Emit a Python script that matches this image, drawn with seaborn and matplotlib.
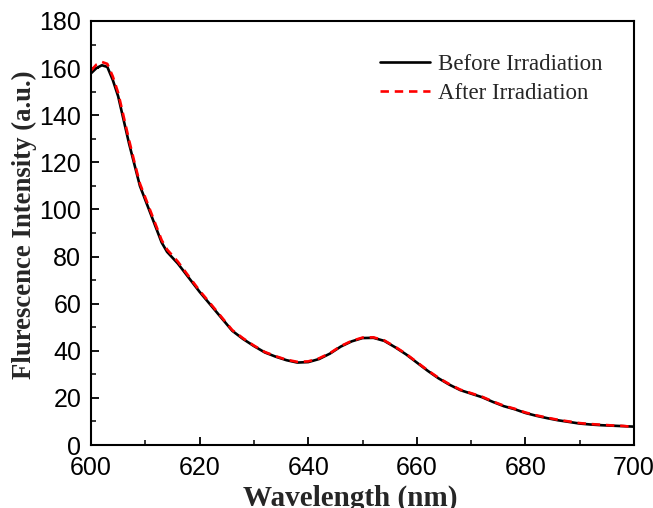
import matplotlib
matplotlib.use("Agg")
import matplotlib.pyplot as plt
import seaborn as sns
import pandas as pd
from matplotlib.ticker import MultipleLocator

wavelength = [600, 601, 602, 603, 604, 605, 606, 607, 608, 609, 610, 611, 612, 613, 614,
              616, 618, 620, 622, 624, 626, 628, 630, 632, 634, 636, 638, 640, 642, 644,
              646, 648, 650, 652, 654, 656, 658, 660, 662, 664, 666, 668, 670, 672, 674,
              676, 678, 680, 682, 684, 686, 688, 690, 692, 694, 696, 698, 700]
before = [157.8, 160.0, 161.2, 160.5, 155.0, 148.0, 138.0, 128.0, 119.0, 110.0, 104.0, 98.0,
          92.0, 86.0, 82.0, 77.0, 71.0, 65.0, 59.5, 54.0, 48.5, 45.0, 42.0, 39.3, 37.5, 36.0,
          35.0, 35.2, 36.5, 38.8, 41.8, 44.0, 45.4, 45.5, 44.2, 41.5, 38.5, 35.0, 31.5, 28.3,
          25.6, 23.3, 21.8, 20.3, 18.3, 16.5, 15.2, 13.6, 12.4, 11.4, 10.5, 9.8, 9.1, 8.7,
          8.4, 8.2, 8.0, 7.8]
after = [159.0, 161.5, 162.6, 161.8, 156.5, 149.5, 139.5, 129.5, 120.0, 111.0, 105.0, 99.0,
         93.0, 87.0, 83.0, 77.8, 71.6, 65.5, 60.0, 54.4, 48.8, 45.3, 42.2, 39.5, 37.7, 36.2,
         35.3, 35.5, 36.8, 39.0, 42.0, 44.2, 45.6, 45.7, 44.4, 41.7, 38.7, 35.2, 31.7, 28.5,
         25.8, 23.5, 22.0, 20.5, 18.5, 16.7, 15.4, 13.8, 12.6, 11.6, 10.7, 10.0, 9.3, 8.9,
         8.6, 8.3, 8.1, 7.6]
labels = ["Before Irradiation", "After Irradiation"]
xticks = [600, 620, 640, 660, 680, 700]
yticks = [0, 20, 40, 60, 80, 100, 120, 140, 160, 180]

sns.set_theme(style="white")
plt.rcParams["font.family"] = ["Liberation Sans", "DejaVu Sans"]

fig = plt.figure(figsize=(6.53, 5.08), dpi=100)
ax = fig.add_axes([0.1394, 0.124, 0.971 - 0.1394, 0.9587 - 0.124])

df_b = pd.DataFrame({"x": wavelength, "y": before})
df_a = pd.DataFrame({"x": wavelength, "y": after})
sns.lineplot(data=df_b, x="x", y="y", ax=ax, color="black", linewidth=1.9, label=labels[0])
sns.lineplot(data=df_a, x="x", y="y", ax=ax, color="#ff0000", linewidth=1.9,
             linestyle=(0, (3.2, 2.2)), label=labels[1])

ax.set_xlim(600, 700)
ax.set_ylim(0, 180)
ax.set_xticks(xticks)
ax.set_yticks(yticks)
ax.xaxis.set_minor_locator(MultipleLocator(10))
ax.yaxis.set_minor_locator(MultipleLocator(10))
ax.tick_params(which="both", direction="in", top=False, right=False, bottom=True, left=True)
ax.tick_params(which="major", length=6, width=1.3, labelsize=18, colors="black")
ax.tick_params(which="minor", length=3.5, width=1.3)
ax.tick_params(axis="x", which="major", pad=8)
ax.tick_params(axis="y", which="major", pad=7)
for s in ax.spines.values():
    s.set_color("black")
    s.set_linewidth(1.5)

ax.set_xlabel("Wavelength (nm)", family=["Liberation Serif"], fontweight="bold", fontsize=21, labelpad=3)
ax.set_ylabel("Flurescence Intensity (a.u.)", family=["Liberation Serif"], fontweight="bold", fontsize=19.3, labelpad=2)
ax.xaxis.label.set_x(0.478)
ax.yaxis.label.set_y(0.519)

leg = ax.legend(loc="upper right", bbox_to_anchor=(0.98, 0.97), frameon=False,
                prop={"family": "Liberation Serif", "size": 16.5},
                handlelength=2.2, handletextpad=0.35, labelspacing=0.32)

fig.savefig("out.png", dpi=100)
